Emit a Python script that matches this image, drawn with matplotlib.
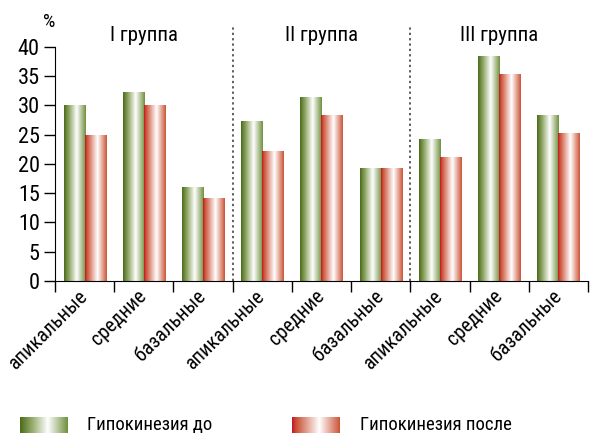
import matplotlib
matplotlib.use("Agg")
import matplotlib.pyplot as plt
import numpy as np
from matplotlib.colors import LinearSegmentedColormap

plt.rcParams['font.family'] = ['Roboto Condensed', 'DejaVu Sans']

# data
groups = ['I группа', 'II группа', 'III группа']
segments = ['апикальные', 'средние', 'базальные']
before = [30, 32.3, 16, 27.3, 31.4, 19.3, 24.3, 38.5, 28.4]
after = [25, 30, 14.2, 22.2, 28.4, 19.3, 21.2, 35.4, 25.3]
legend_labels = ['Гипокинезия до', 'Гипокинезия после']

green_cmap = LinearSegmentedColormap.from_list(
    'g', [(0, '#4b6a1a'), (0.25, '#94ab6c'), (0.58, '#ffffff'), (1, '#6f903d')])
red_cmap = LinearSegmentedColormap.from_list(
    'r', [(0, '#c40f2c'), (0.07, '#c9492c'), (0.57, '#ffffff'), (1, '#cc5436')])
grad = np.linspace(0, 1, 256).reshape(1, -1)

fig = plt.figure(figsize=(5.93, 4.34), dpi=100)
ax = fig.add_axes([0.0927, 0.3525, 0.8989, 0.5853])

n = len(before)
x = np.arange(n)
w = 0.36
ymax = 43.4

def gradient_bars(xs, vals, cmap):
    bars = ax.bar(xs, vals, width=w, align='edge', color='none', linewidth=0)
    for b in bars:
        x0, y0 = b.get_x(), b.get_y()
        im = ax.imshow(grad, cmap=cmap, aspect='auto', interpolation='bilinear',
                       extent=[x0, x0 + b.get_width(), y0, y0 + b.get_height()])
        im.set_clip_path(b)

gradient_bars(x - w + 0.005, before, green_cmap)
gradient_bars(x, after, red_cmap)

ax.set_xlim(-0.5, n - 0.5)
ax.set_ylim(0, ymax)

# group separators
for sep in [2.5, 5.5]:
    ax.axvline(sep, color='#333333', lw=1.1, ls=(0, (1.5, 2)))

for i, g in enumerate(groups):
    ax.text(3 * i + 1, 42.0, g, ha='center', va='center', fontsize=15)

ax.spines['top'].set_visible(False)
ax.spines['right'].set_visible(False)
ax.spines['left'].set_bounds(0, 40)
ax.set_yticks(range(0, 41, 5))
ax.tick_params(axis='y', labelsize=16, length=8, width=1, pad=3)

ax.set_xticks(np.arange(-0.5, n, 1))
ax.set_xticklabels([])
ax.tick_params(axis='x', length=8, width=1)
ax.set_xticks(x, minor=True)
ax.set_xticklabels(segments * 3, minor=True, rotation=45, ha='right',
                   va='center', rotation_mode='anchor', fontsize=14.5)
ax.tick_params(axis='x', which='minor', length=0, pad=9)

fig.text(49 / 593, 1 - 22 / 434, '%', ha='center', va='center', fontsize=14)

# legend
lax1 = fig.add_axes([20 / 593, 1 - 433 / 434, 48 / 593, 16 / 434])
lax1.imshow(grad, cmap=green_cmap, aspect='auto')
lax1.axis('off')
lax2 = fig.add_axes([292 / 593, 1 - 433 / 434, 48 / 593, 16 / 434])
lax2.imshow(grad, cmap=red_cmap, aspect='auto')
lax2.axis('off')
fig.text(87 / 593, 1 - 425 / 434, legend_labels[0], ha='left', va='center', fontsize=13.5)
fig.text(360 / 593, 1 - 425 / 434, legend_labels[1], ha='left', va='center', fontsize=13.5)

fig.savefig('out.png', dpi=100)
